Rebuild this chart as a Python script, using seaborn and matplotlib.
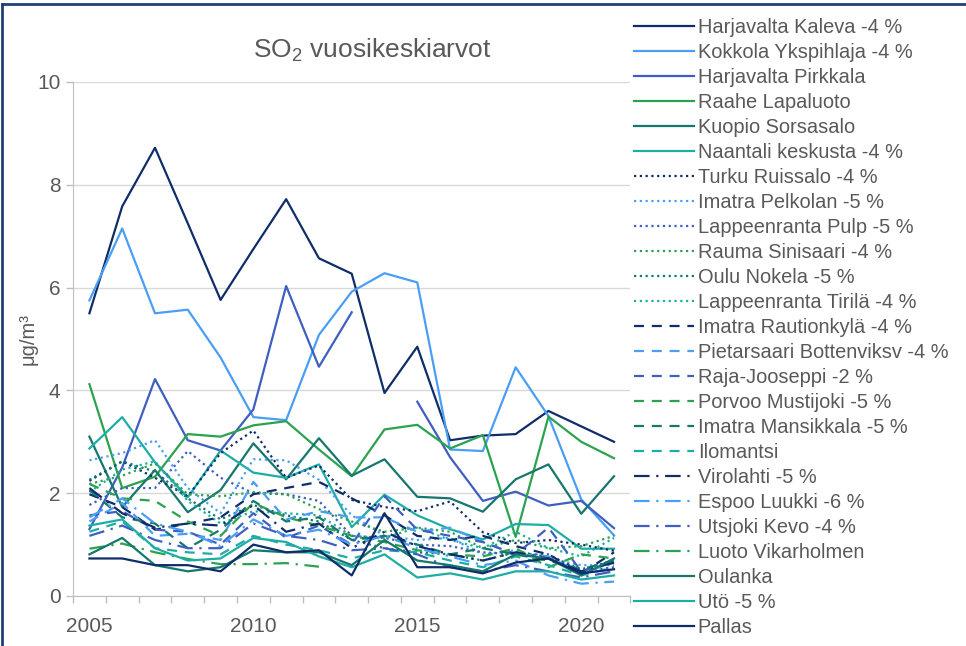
import matplotlib.pyplot as plt
import seaborn as sns
import pandas as pd
import numpy as np
from matplotlib.lines import Line2D

nan = np.nan
years = list(range(2005, 2022))

# SO2 annual means, ug/m3, 2005-2021
harjavalta_kaleva = [5.5, 7.58, 8.72, 7.25, 5.76, 6.75, 7.72, 6.57, 6.27, 3.95, 4.85, 3.03, 3.12, 3.15, 3.6, 3.3, 3.0]
kokkola_ykspihlaja = [5.75, 7.15, 5.5, 5.57, 4.64, 3.48, 3.42, 5.08, 5.92, 6.28, 6.1, 2.85, 2.82, 4.45, 3.5, 1.88, 1.18]
harjavalta_pirkkala = [1.3, 2.5, 4.22, 3.03, 2.83, 3.63, 6.03, 4.46, 5.52, nan, 3.78, 2.7, 1.85, 2.03, 1.76, 1.85, 1.32]
raahe_lapaluoto = [4.12, 2.1, 2.32, 3.15, 3.1, 3.32, 3.4, 2.85, 2.33, 3.24, 3.33, 2.87, 3.13, 1.15, 3.49, 3.0, 2.68]
kuopio_sorsasalo = [3.1, 1.73, 2.45, 1.63, 2.06, 2.97, 2.27, 3.07, 2.34, 2.66, 1.93, 1.9, 1.64, 2.27, 2.56, 1.6, 2.33]
naantali_keskusta = [2.87, 3.48, 2.6, 1.92, 2.83, 2.4, 2.3, 2.56, 1.34, 1.97, 1.57, 1.3, 1.1, 1.4, 1.38, 0.92, 0.92]
turku_ruissalo = [2.24, 2.62, 2.3, 1.94, 2.78, 3.22, 2.3, 2.54, 1.87, 1.73, 1.65, 1.84, 1.24, 1.03, 1.09, 1.0, 0.88]
imatra_pelkolan = [2.64, 2.78, 3.03, 2.1, 1.61, 2.66, 2.64, 2.26, 1.57, 1.17, 1.09, 1.13, 0.81, 0.89, 0.73, 0.6, 0.6]
lappeenranta_pulp = [1.77, 2.1, 2.1, 2.82, 2.3, 2.0, 1.98, 1.85, 1.17, 1.13, 1.0, 0.97, 0.85, 0.81, 0.81, 0.48, 0.56]
rauma_sinisaari = [2.18, 2.34, 2.58, 1.98, 1.94, 2.02, 1.98, 1.69, 1.45, 1.25, 1.33, 1.25, 0.93, 1.09, 0.93, 0.97, 1.17]
oulu_nokela = [2.26, 2.62, 2.42, 1.9, 1.49, 1.77, 1.57, 1.45, 1.09, 0.93, 0.85, 0.81, 0.69, 0.85, 0.77, 0.52, 0.69]
lappeenranta_tirila = [2.02, 2.46, 2.62, 1.85, 1.41, 1.65, 1.61, 1.57, 1.17, 1.13, 1.33, 1.09, 0.93, 1.25, 0.93, 0.77, 1.13]
imatra_rautionkyla = [1.98, 1.73, 1.29, 1.41, 1.53, 1.98, 2.1, 2.22, 1.9, 1.57, 1.17, 1.09, 1.17, 0.97, 0.81, 0.44, 0.85]
pietarsaari = [1.45, 1.81, 1.17, 1.21, 1.09, 2.22, 1.49, 1.65, 1.53, 1.53, 1.25, 1.33, 1.05, 0.81, 0.77, 0.44, 0.65]
raja_jooseppi = [1.57, 1.65, 1.29, 1.25, 1.0, 1.61, 1.13, 1.37, 1.0, 1.94, 1.29, 1.17, 1.05, 0.81, 1.33, 0.48, 0.69]
porvoo_mustijoki = [2.18, 1.9, 1.85, 1.45, 1.17, 1.81, 1.53, 1.37, 1.17, 1.05, 0.89, 0.81, 0.77, 0.93, 0.56, 0.81, 0.73]
imatra_mansikkala = [2.06, 1.53, 1.41, 0.93, 1.29, 1.85, 1.45, 1.53, 1.09, 1.17, 1.0, 0.81, 0.93, 0.81, 0.69, 0.52, 0.69]
ilomantsi = [1.25, 1.45, 0.93, 0.85, 0.81, 1.17, 1.0, 0.89, 0.73, 0.89, 0.85, 0.69, 0.56, 0.77, 0.6, 0.4, 0.56]
virolahti = [2.1, 1.61, 1.33, 1.41, 1.37, 1.77, 1.25, 1.41, 0.93, 1.25, 0.97, 0.81, 0.69, 0.85, 0.73, 0.48, 0.65]
espoo_luukki = [1.53, 1.9, 1.41, 1.25, 0.97, 1.49, 1.17, 1.29, 1.0, 1.17, 0.93, 0.77, 0.6, 0.69, 0.4, 0.24, 0.28]
utsjoki_kevo = [1.17, 1.37, 1.09, 0.93, 0.93, 1.41, 1.17, 1.09, 0.89, 0.93, 0.81, 0.56, 0.48, 0.6, 0.48, 0.36, 0.48]
luoto_vikarholmen = [0.92, 1.02, 0.85, 0.72, 0.62, 0.62, 0.64, 0.57, nan, nan, nan, nan, nan, nan, nan, nan, nan]
oulanka = [0.81, 1.13, 0.6, 0.48, 0.56, 0.89, 0.85, 0.85, 0.6, 1.09, 0.69, 0.6, 0.48, 0.81, 0.73, 0.4, 0.73]
uto = [1.37, 1.49, 0.93, 0.69, 0.73, 1.13, 1.05, 0.77, 0.56, 0.81, 0.36, 0.44, 0.32, 0.48, 0.48, 0.32, 0.4]
pallas = [0.73, 0.73, 0.6, 0.6, 0.48, 1.0, 0.85, 0.89, 0.4, 1.61, 0.56, 0.56, 0.44, 0.65, 0.73, 0.44, 0.52]

stations = ['Harjavalta Kaleva -4 %', 'Kokkola Ykspihlaja -4 %', 'Harjavalta Pirkkala',
            'Raahe Lapaluoto', 'Kuopio Sorsasalo', 'Naantali keskusta -4 %',
            'Turku Ruissalo -4 %', 'Imatra Pelkolan -5 %', 'Lappeenranta Pulp -5 %',
            'Rauma Sinisaari -4 %', 'Oulu Nokela -5 %', 'Lappeenranta Tirilä -4 %',
            'Imatra Rautionkylä -4 %', 'Pietarsaari Bottenviksv -4 %', 'Raja-Jooseppi -2 %',
            'Porvoo Mustijoki -5 %', 'Imatra Mansikkala -5 %', 'Ilomantsi',
            'Virolahti -5 %', 'Espoo Luukki -6 %', 'Utsjoki Kevo -4 %',
            'Luoto Vikarholmen', 'Oulanka', 'Utö -5 %', 'Pallas']
series = [harjavalta_kaleva, kokkola_ykspihlaja, harjavalta_pirkkala, raahe_lapaluoto,
          kuopio_sorsasalo, naantali_keskusta, turku_ruissalo, imatra_pelkolan,
          lappeenranta_pulp, rauma_sinisaari, oulu_nokela, lappeenranta_tirila,
          imatra_rautionkyla, pietarsaari, raja_jooseppi, porvoo_mustijoki,
          imatra_mansikkala, ilomantsi, virolahti, espoo_luukki, utsjoki_kevo,
          luoto_vikarholmen, oulanka, uto, pallas]

df = pd.DataFrame({'year': years, **dict(zip(stations, series))})

navy, light, mid, green, dteal, teal = '#0F2D69', '#4A9EF6', '#3F5FC0', '#2BA24F', '#16776D', '#1DADA5'
base = [navy, light, mid, green, dteal, teal]
colors = base * 3 + [navy, light, mid, green] + [dteal, teal, navy]
dot = (0, (1, 1.6))
dash = (0, (4.5, 3.5))
longdashdot = (0, (7, 3, 1, 3))
styles = ['-'] * 6 + [dot] * 6 + [dash] * 6 + [longdashdot] * 4 + ['-'] * 3

plt.rcParams['font.family'] = ['Liberation Sans', 'DejaVu Sans']
plt.rcParams['mathtext.fontset'] = 'custom'
plt.rcParams['mathtext.rm'] = 'Liberation Sans'
plt.rcParams['mathtext.it'] = 'Liberation Sans:italic'
txt = '#595959'

fig = plt.figure(figsize=(9.66, 6.46), dpi=100)
ax = fig.add_axes([0.0756, 0.0774, 0.577, 0.7957])

handles = []
for name, c, ls in zip(stations, colors, styles):
    s = df[['year', name]]
    ok = s[name].notna()
    run = (ok != ok.shift()).cumsum()
    for _, seg in s[ok].groupby(run[ok]):
        sns.lineplot(data=seg, x='year', y=name, color=c, linestyle=ls, lw=1.6,
                     legend=False, ax=ax, estimator=None, sort=False)
    handles.append(Line2D([], [], color=c, linestyle=ls, lw=1.6))

ax.set_xlim(2004.5, 2021.5)
ax.set_ylim(0, 10)
ax.set_yticks(range(0, 11, 2))
ax.set_xticks([2005, 2010, 2015, 2020])
ax.set_xticks(np.arange(2004.5, 2022, 1), minor=True)
ax.tick_params(axis='x', which='major', length=0, pad=15, labelsize=15, labelcolor=txt)
ax.tick_params(axis='x', which='minor', length=5, color='#BFBFBF', width=1)
ax.tick_params(axis='y', length=5, color='#BFBFBF', width=1, labelsize=15, labelcolor=txt, pad=4)
ax.grid(axis='y', color='#D9D9D9', lw=1)
ax.set_axisbelow(True)
for side in ['top', 'right']:
    ax.spines[side].set_visible(False)
for side in ['left', 'bottom']:
    ax.spines[side].set_color('#BFBFBF')
ax.set_xlabel('')
ax.set_ylabel('μg/m³', fontsize=14.5, color=txt, labelpad=0)
fig.text(372 / 966, 1 - 50 / 646, r'SO$_2$ vuosikeskiarvot', fontsize=19, color=txt,
         ha='center', va='center')

fig.legend(handles, stations, loc='upper left', bbox_to_anchor=(0.656, 0.972),
           frameon=False, fontsize=14.4, labelspacing=0.3, handlelength=3.0,
           handletextpad=0.2, borderpad=0, borderaxespad=0, labelcolor=txt)

fig.add_artist(Line2D([0.002, 0.002], [0, 0.994], transform=fig.transFigure, color='#1F3F7A', lw=2))
fig.add_artist(Line2D([0.002, 1], [0.994, 0.994], transform=fig.transFigure, color='#1F3F7A', lw=2))

fig.savefig('out.png', dpi=100)
